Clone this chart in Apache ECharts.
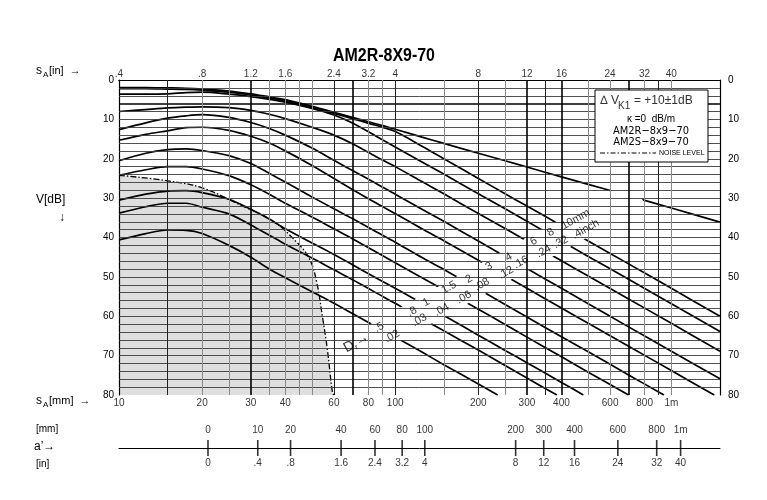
<!DOCTYPE html>
<html><head><meta charset="utf-8">
<script src="https://cdn.jsdelivr.net/npm/echarts@6.0.0/dist/echarts.min.js"></script>
<style>html,body{margin:0;padding:0;background:#fff}#c{width:767px;height:500px}</style>
</head><body><div id="c"></div>
<script>
// ---- data (distance s in mm, gain V in dB) ----
const bwe  = [[10,1.9],[12.5,1.9],[15,2.0],[17.5,2.1],[20,2.3],[25,2.8],[30,3.5],[35,4.3],[40,5.0],[50,6.7],[60,8.2],[70,9.5],[85,11.1],[100,12.5],[125,14.5],[150,16.1],[200,18.6],[250,20.5],[300,22.1],[400,24.6],[500,26.5],[700,29.4],[1000,32.5],[1500,36.1]];
const d10  = [[10,2.2],[12.5,2.2],[15,2.3],[17.5,2.4],[20,2.6],[25,3.1],[30,3.8],[35,4.6],[40,5.3],[50,7.0],[60,8.5],[70,9.8],[85,11.5],[100,13.1],[125,16.8],[150,20.0],[200,25.0],[250,28.9],[300,32.0],[400,37.0],[500,40.9],[700,46.7],[1000,52.9],[1500,60.0]];
const d8   = [[10,3.6],[12.5,3.6],[15,3.5],[17.5,3.2],[20,3.1],[25,3.6],[30,4.2],[35,4.9],[40,5.6],[50,7.2],[60,8.9],[70,10.9],[85,14.2],[100,17.0],[125,20.8],[150,23.9],[200,28.9],[250,32.7],[300,35.9],[400,40.9],[500,44.8],[700,50.6],[1000,56.8],[1500,63.9]];
const d6   = [[10,8.0],[12.5,7.5],[15,7.1],[17.5,6.9],[20,6.8],[25,7.0],[30,7.7],[35,8.7],[40,9.8],[50,12.0],[60,14.0],[70,16.2],[85,19.4],[100,22.0],[125,25.8],[150,28.9],[200,33.9],[250,37.7],[300,40.9],[400,45.9],[500,49.8],[700,55.6],[1000,61.8],[1500,68.9]];
const d4   = [[10,12.6],[12.5,10.9],[15,9.7],[17.5,9.1],[20,8.8],[25,9.5],[30,10.8],[35,12.3],[40,14.0],[50,17.3],[60,20.4],[70,23.0],[85,26.2],[100,29.0],[125,32.8],[150,35.9],[200,40.9],[250,44.8],[300,47.9],[400,52.9],[500,56.8],[700,62.7],[1000,68.9],[1500,75.9]];
const d3   = [[10,15.3],[12.5,13.8],[15,12.9],[17.5,12.1],[20,12.0],[25,12.8],[30,14.3],[35,16.0],[40,18.0],[50,21.7],[60,25.0],[70,27.8],[85,31.2],[100,33.9],[125,37.8],[150,40.8],[200,45.8],[250,49.7],[300,52.9],[400,57.9],[500,61.8],[700,67.6],[1000,73.8],[1430,80]];
const d2   = [[10,20.5],[12.5,18.6],[15,17.7],[17.5,17.5],[20,17.9],[25,19.2],[30,21.2],[35,23.7],[40,25.9],[50,29.7],[60,32.7],[70,35.2],[85,38.5],[100,41.2],[125,45.1],[150,48.1],[200,53.1],[250,57.0],[300,60.2],[400,65.2],[500,69.0],[700,74.9],[940,80]];
const d15  = [[10,24.2],[12.5,22.8],[15,22.0],[17.5,22.0],[20,22.6],[25,24.3],[30,26.6],[35,29.0],[40,31.3],[50,34.8],[60,37.8],[70,40.3],[85,43.6],[100,46.4],[125,50.2],[150,53.3],[200,58.2],[250,62.1],[300,65.3],[400,70.3],[500,74.2],[700,80]];
const d1   = [[10,30.5],[12.5,29.0],[15,28.2],[17.5,28.1],[20,28.6],[25,30.3],[30,32.8],[35,35.3],[40,37.8],[50,41.4],[60,44.3],[70,46.9],[85,50.2],[100,52.9],[125,56.7],[150,59.8],[200,64.8],[250,68.7],[300,71.8],[400,76.8],[480,80]];
const d08  = [[10,33.8],[12.5,32.2],[15,31.3],[17.5,31.3],[20,32.3],[25,34.0],[30,36.8],[35,39.4],[40,41.7],[50,45.2],[60,48.2],[70,50.7],[85,54.0],[100,56.7],[125,60.6],[150,63.7],[200,68.6],[250,72.5],[300,75.7],[385,80]];
const d05  = [[10,40.6],[12.5,39.0],[15,38.1],[17.5,38.2],[20,39.0],[25,42.0],[30,45.0],[35,48.0],[40,50.2],[50,53.8],[60,56.7],[70,59.3],[85,62.6],[100,65.3],[125,69.1],[150,72.3],[200,77.2],[235,80]];
const noise = [[10,24.2],[15,25.6],[20,27.4],[28,32.0],[36,35.8],[44,41.2],[49,45.5],[52,51.4],[54.5,60],[56.8,68.4],[59.3,79.5],[60,80]];

// grid lines
const vThin  = [20,25,35,40,45,50,80,90,150,250,500,600,800,1000];
const vDark  = [15,60,100,200,350,900];
const vHeavy = [30,70,300,400,700];
const hThin  = [2,4,8,10,12,14,16,18,20,22,24,26,28,30,32,34,36,38,40,42,44,46,48,50,52,54,56,58,60,62,64,66,68,70,72,74,76,78];
const hHeavy = [6];

// tick labels
const mmTickVals = [10,20,30,40,60,80,100,200,300,400,600,800,1000];
const mmTickText = ['10','20','30','40','60','80','100','200','300','400','600','800','1m'];
const inTickText = ['.4','.8','1.2','1.6','2.4','3.2','4','8','12','16','24','32','40'];

// a' scale
const aPos    = [21,31.8,41.8,63.7,84.5,106,128,273,345,446,640,885,1080];
const aMmText = ['0','10','20','40','60','80','100','200','300','400','600','800','1m'];
const aInText = ['0','.4','.8','1.6','2.4','3.2','4','8','12','16','24','32','40'];

// label band
const bandPath = [[65.5,69.85],[760,28.6]];
const bandMm = [[87.5,62.8,'.5'],[115.2,58.8,'.8'],[129.4,56.5,'1'],[156.6,52.7,'1.5'],[185,50.6,'2'],[218.4,47.3,'3'],[257.9,45.0,'4'],[317.6,41.0,'6'],[365.8,38.7,'8'],[450.2,35.4,'10mm']];
const bandIn = [[97.5,65.1,'.02'],[122.5,61.0,'.03'],[147.5,58.4,'.04'],[177.5,55.2,'.06'],[206.1,51.9,'.08'],[251.6,48.9,'.12'],[285.1,46.3,'.16'],[345.1,43.5,'.24'],[397.6,41.2,'.32'],[489.3,37.9,'.4inch']];
const bandD = [[72.3,66.7,'D']];

const F = '"Liberation Sans", Arial, sans-serif';
const FN = '"Liberation Sans Narrow", "DejaVu Sans Condensed", sans-serif';

const chart = echarts.init(document.getElementById('c'), null, {renderer:'canvas'});
const curves = [bwe, d10, d8, d6, d4, d3, d2, d15, d1, d08, d05];

const mlData = []
  .concat(hThin.map(v => ({yAxis: v, lineStyle:{color:'#3c3c3c', width:0.9}})))
  .concat(hHeavy.map(v => ({yAxis: v, lineStyle:{color:'#000', width:1.6}})))
  .concat(vThin.map(v => ({xAxis: v})))
  .concat(vDark.map(v => ({xAxis: v, lineStyle:{color:'#222', width:1}})))
  .concat(vHeavy.map(v => ({xAxis: v, lineStyle:{color:'#000', width:1.6}})));

const series = [];
series.push({
  type:'line', xAxisIndex:0, yAxisIndex:0, data:[[10,0]], symbol:'none',
  lineStyle:{opacity:0}, z:1, silent:true,
  markLine:{silent:true, symbol:['none','none'], label:{show:false}, animation:false,
    lineStyle:{color:'#8a8a8a', width:1, type:'solid'}, emphasis:{disabled:true}, data: mlData}
});
series.push({
  type:'line', xAxisIndex:0, yAxisIndex:0, data: noise, symbol:'none', smooth:0.4, z:2, silent:true,
  lineStyle:{color:'#000', width:1.3, type:[6,2,1.5,2]},
  areaStyle:{color:'rgba(0,0,0,0.18)', origin:'end'}
});
curves.forEach(c => series.push({
  type:'line', xAxisIndex:0, yAxisIndex:0, data:c, symbol:'none', smooth:0.3, z:3, silent:true,
  lineStyle:{color:'#000', width:1.7}
}));
series.push({
  type:'line', xAxisIndex:0, yAxisIndex:0, data: bandPath, symbol:'none', z:4, silent:true,
  lineStyle:{color:'#fff', width:29, cap:'butt'}
});
const bandLabel = (arr) => ({
  type:'scatter', xAxisIndex:0, yAxisIndex:0, data: arr, symbolSize:0, z:5, silent:true,
  itemStyle:{color:'rgba(0,0,0,0)'},
  label:{show:true, position:'inside', rotate:29, formatter: p => p.value[2], fontFamily:F, fontSize:11, color:'#000'}
});
series.push(bandLabel(bandMm));
series.push(bandLabel(bandIn));
series.push({
  type:'scatter', xAxisIndex:0, yAxisIndex:0, data: bandD, symbolSize:0, z:5, silent:true,
  label:{show:true, position:'inside', rotate:29, formatter:'{d|D}{r|r}{d|\u2192}', color:'#000',
    rich:{d:{fontFamily:F, fontSize:14, color:'#000'}, r:{fontFamily:F, fontSize:8, color:'#000', padding:[8,0,0,0]}}}
});
// axis tick labels
series.push({
  type:'scatter', xAxisIndex:0, yAxisIndex:0, data: mmTickVals.map((v,i)=>[v,80,mmTickText[i]]), symbolSize:0, clip:false, silent:true, z:6,
  label:{show:true, position:'bottom', distance:3, formatter:p=>p.value[2], fontFamily:F, fontSize:10, color:'#000'}
});
series.push({
  type:'scatter', xAxisIndex:0, yAxisIndex:0, data: mmTickVals.map((v,i)=>[v,0,inTickText[i]]), symbolSize:0, clip:false, silent:true, z:6,
  label:{show:true, position:'top', distance:1, formatter:p=>p.value[2], fontFamily:F, fontSize:10, color:'#000'}
});
// a' scale
series.push({
  type:'scatter', xAxisIndex:2, yAxisIndex:2, data: aPos.map((v,i)=>[v,0,aMmText[i]]), symbol:'rect', symbolSize:[1.6,16], clip:false, silent:true,
  itemStyle:{color:'#000'},
  label:{show:true, position:'top', distance:5, formatter:p=>p.value[2], fontFamily:F, fontSize:10, color:'#000'}
});
series.push({
  type:'scatter', xAxisIndex:2, yAxisIndex:2, data: aPos.map((v,i)=>[v,0,aInText[i]]), symbolSize:0, clip:false, silent:true,
  label:{show:true, position:'bottom', distance:10, formatter:p=>p.value[2], fontFamily:F, fontSize:10, color:'#000'}
});

const txt = (x, y, text, font, align, fill) => ({type:'text', x:x, y:y, z:100, silent:true,
  style:{text:text, font:font, fill:fill||'#000', align:align||'left', verticalAlign:'middle'}});

const title = txt(384, 56, 'AM2R-8X9-70', 'bold 19px '+F, 'center');
title.scaleX = 0.84;

const option = {
  animation:false,
  backgroundColor:'#fff',
  grid:[{left:119, top:80, width:601, height:315}, {left:119, top:434, width:601, height:14}],
  xAxis:[
    {type:'log', gridIndex:0, min:10, max:1500, position:'bottom', axisLine:{show:true, lineStyle:{color:'#000', width:1.2}}, axisTick:{show:false}, axisLabel:{show:false}, splitLine:{show:false}},
    {type:'log', gridIndex:0, min:10, max:1500, position:'top', axisLine:{show:true, lineStyle:{color:'#000', width:1.2}}, axisTick:{show:false}, axisLabel:{show:false}, splitLine:{show:false}},
    {type:'log', gridIndex:1, min:10, max:1500, position:'bottom', axisLine:{show:true, lineStyle:{color:'#000', width:1}}, axisTick:{show:false}, axisLabel:{show:false}, splitLine:{show:false}}
  ],
  yAxis:[
    {type:'value', gridIndex:0, inverse:true, min:0, max:80, interval:10, position:'left', axisLine:{show:true, lineStyle:{color:'#000', width:1.2}}, axisTick:{show:false}, splitLine:{show:false}, axisLabel:{color:'#000', fontFamily:F, fontSize:10, margin:5}},
    {type:'value', gridIndex:0, inverse:true, min:0, max:80, interval:10, position:'right', axisLine:{show:true, lineStyle:{color:'#000', width:1.2}}, axisTick:{show:false}, splitLine:{show:false}, axisLabel:{color:'#000', fontFamily:F, fontSize:10, margin:8}},
    {type:'value', gridIndex:1, min:0, max:1, show:false}
  ],
  series: series,
  graphic:[
    title,
    txt(36, 71, 's', '12px '+F), txt(43, 75, 'A', '8px '+F), txt(49, 71, '[in]  \u2192', '11px '+F),
    txt(36, 200, 'V[dB]', '12px '+F),
    txt(62, 218, '\u2193', '12px '+F, 'center'),
    txt(36, 401, 's', '12px '+F), txt(43, 405, 'A', '8px '+F), txt(49, 401, '[mm]  \u2192', '11px '+F),
    txt(36, 429, '[mm]', '10px '+F),
    txt(34, 447, 'a\u2019\u2192', '12px '+F),
    txt(36, 464, '[in]', '10px '+F),
    {type:'rect', z:99, silent:true, shape:{x:595, y:90, width:113, height:72}, style:{fill:'#fff', stroke:'#000', lineWidth:1}},
    txt(619, 101, '\u2206 V', '12px '+F, 'right', '#333'),
    txt(618, 106, 'K1', '10px '+F, 'left', '#333'),
    txt(634, 101, '= +10\u00b11dB', '12px '+F, 'left', '#333'),
    txt(651, 119, '\u03ba =0  dB/m', '10px '+F, 'center'),
    txt(651, 131, 'AM2R\u22128x9\u221270', '11px '+FN, 'center'),
    txt(651, 142, 'AM2S\u22128x9\u221270', '11px '+FN, 'center'),
    {type:'line', z:100, silent:true, shape:{x1:600, y1:153, x2:656, y2:153}, style:{stroke:'#000', lineWidth:1, lineDash:[5,2,1.5,2]}},
    txt(659, 153, 'NOISE LEVEL', '7px '+F, 'left')
  ]
};
chart.setOption(option);
</script></body></html>
